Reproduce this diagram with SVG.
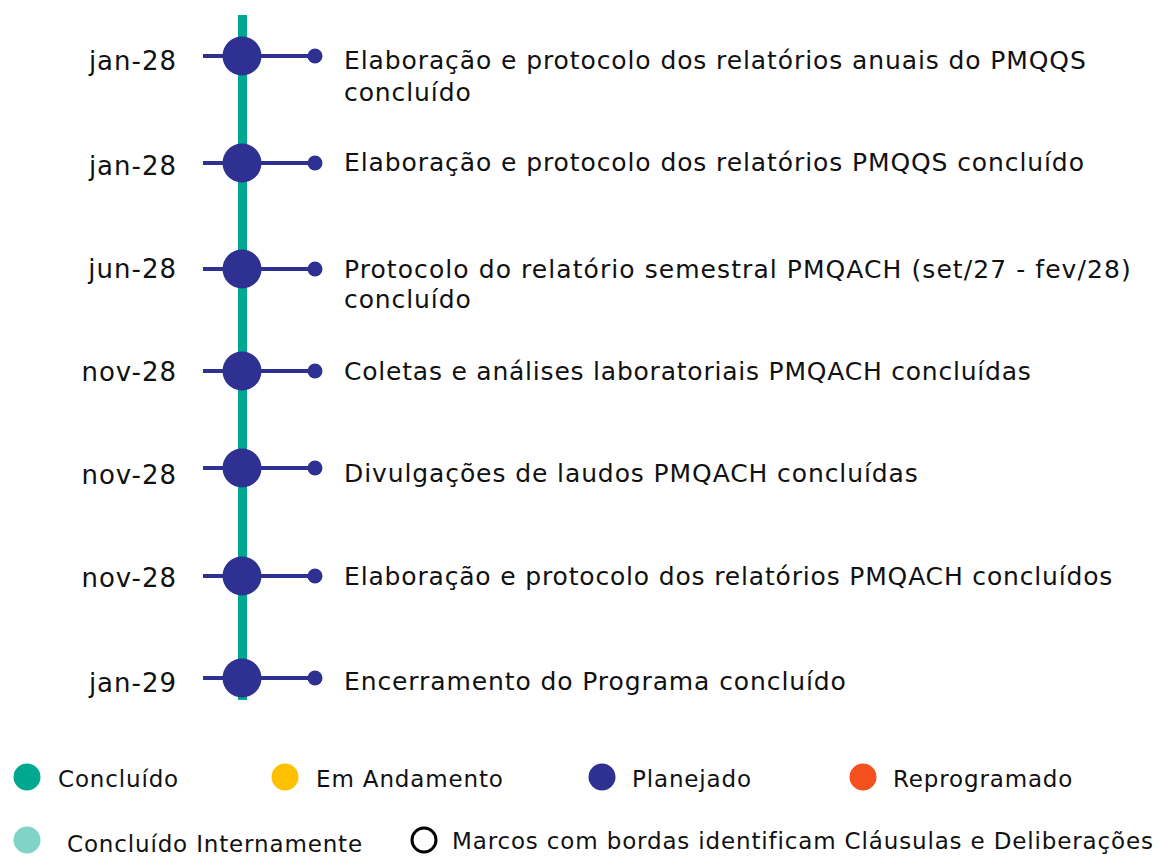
<svg xmlns="http://www.w3.org/2000/svg" width="1160" height="858" viewBox="0 0 1160 858">
<style>
.t{font-family:"DejaVu Sans",Verdana,sans-serif;font-size:25px;letter-spacing:0.9px;fill:#111}
.d{font-family:"DejaVu Sans",Verdana,sans-serif;font-size:26px;letter-spacing:1px;fill:#111;text-anchor:end}
.l{font-family:"DejaVu Sans",Verdana,sans-serif;font-size:23px;letter-spacing:0.85px;fill:#111}
.h{stroke:#2E3192;stroke-width:4}
.big{fill:#2E3192}
.sm{fill:#2E3192}
</style>
<rect width="1160" height="858" fill="#fff"/>
<g id="connectors">
<line x1="242.5" y1="15" x2="242.5" y2="700" stroke="#00A88F" stroke-width="9"/>
<line class="h" x1="203" y1="56" x2="314" y2="56"/>
<line class="h" x1="203" y1="163" x2="314" y2="163"/>
<line class="h" x1="203" y1="269" x2="314" y2="269"/>
<line class="h" x1="203" y1="371" x2="314" y2="371"/>
<line class="h" x1="203" y1="468" x2="314" y2="468"/>
<line class="h" x1="203" y1="576" x2="314" y2="576"/>
<line class="h" x1="203" y1="678" x2="314" y2="678"/>
</g>
<g id="m1"><circle class="big" cx="242" cy="56" r="19.5"/><circle class="sm" cx="315" cy="56" r="7.5"/><text class="d" x="177" y="70">jan-28</text><text class="t" x="344" y="69">Elaboração e protocolo dos relatórios anuais do PMQQS</text><text class="t" x="344" y="101">concluído</text></g>
<g id="m2"><circle class="big" cx="242" cy="163" r="19.5"/><circle class="sm" cx="315" cy="163" r="7.5"/><text class="d" x="177" y="175">jan-28</text><text class="t" x="344" y="171">Elaboração e protocolo dos relatórios PMQQS concluído</text></g>
<g id="m3"><circle class="big" cx="242" cy="269" r="19.5"/><circle class="sm" cx="315" cy="269" r="7.5"/><text class="d" x="177" y="278">jun-28</text><text class="t" x="344" y="278" style="letter-spacing:1.07px">Protocolo do relatório semestral PMQACH (set/27 - fev/28)</text><text class="t" x="344" y="308">concluído</text></g>
<g id="m4"><circle class="big" cx="242" cy="371" r="19.5"/><circle class="sm" cx="315" cy="371" r="7.5"/><text class="d" x="177" y="381">nov-28</text><text class="t" x="344" y="380" style="letter-spacing:0.78px">Coletas e análises laboratoriais PMQACH concluídas</text></g>
<g id="m5"><circle class="big" cx="242" cy="468" r="19.5"/><circle class="sm" cx="315" cy="468" r="7.5"/><text class="d" x="177" y="484">nov-28</text><text class="t" x="344" y="482">Divulgações de laudos PMQACH concluídas</text></g>
<g id="m6"><circle class="big" cx="242" cy="576" r="19.5"/><circle class="sm" cx="315" cy="576" r="7.5"/><text class="d" x="177" y="587">nov-28</text><text class="t" x="344" y="585" style="letter-spacing:0.83px">Elaboração e protocolo dos relatórios PMQACH concluídos</text></g>
<g id="m7"><circle class="big" cx="242" cy="678" r="19.5"/><circle class="sm" cx="315" cy="678" r="7.5"/><text class="d" x="177" y="692">jan-29</text><text class="t" x="344" y="690">Encerramento do Programa concluído</text></g>
<g id="legend">
<circle cx="27" cy="777" r="13.5" fill="#00A88F"/><text class="l" x="58" y="787">Concluído</text>
<circle cx="285" cy="777" r="13.5" fill="#FFC000"/><text class="l" x="316" y="787">Em Andamento</text>
<circle cx="602" cy="777" r="13.5" fill="#2E3192"/><text class="l" x="632" y="787">Planejado</text>
<circle cx="863" cy="777" r="13.5" fill="#F4511E"/><text class="l" x="893" y="787">Reprogramado</text>
<circle cx="27" cy="840" r="13.5" fill="#7FD3C7"/><text class="l" x="67" y="852">Concluído Internamente</text>
<circle cx="424" cy="840" r="12" fill="none" stroke="#000" stroke-width="3"/><text class="l" x="452" y="849">Marcos com bordas identificam Cláusulas e Deliberações</text>
</g>
</svg>
